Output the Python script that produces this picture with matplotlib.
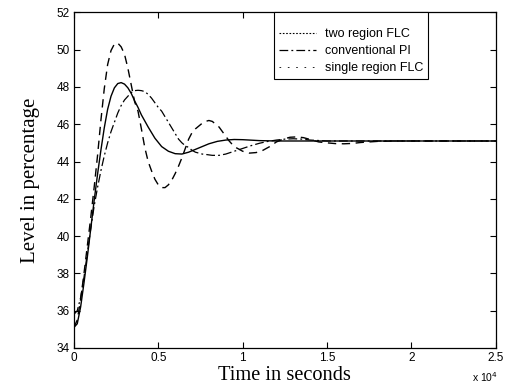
import matplotlib
matplotlib.use("Agg")
import matplotlib.pyplot as plt
from matplotlib.lines import Line2D
from matplotlib.ticker import FuncFormatter

# ---- data (time in seconds, level in %) ----
t_single = [0, 200, 400, 600, 800, 1000, 1200, 1400, 1600, 1800, 2000, 2200, 2400, 2600,
            2800, 3000, 3200, 3400, 3600, 3800, 4000, 4200, 4400, 4600, 4800, 5000, 5200,
            5400, 5600, 5800, 6000, 6200, 6400, 6600, 6800, 7000, 7200, 7400, 7600, 7800,
            8000, 8200, 8400, 8600, 8800, 9000, 9200, 9400, 9600, 9800, 10000, 10400,
            10800, 11200, 11600, 12000, 12400, 12800, 13200, 13600, 14000, 14500, 15000,
            15500, 16000, 16500, 17000, 18000, 19000, 25000]
v_single = [35.1, 35.5, 36.6, 38.0, 39.5, 41.0, 42.6, 44.3, 46.2, 47.9, 49.2, 49.95, 50.3,
            50.35, 50.15, 49.75, 49.0, 48.1, 47.2, 46.7, 45.75, 44.75, 44.0, 43.5, 43.05,
            42.75, 42.6, 42.6, 42.75, 43.0, 43.35, 43.75, 44.2, 44.7, 45.2, 45.55, 45.75,
            45.9, 46.05, 46.15, 46.2, 46.15, 46.0, 45.85, 45.6, 45.35, 45.1, 44.9, 44.75,
            44.65, 44.55, 44.45, 44.48, 44.6, 44.8, 45.05, 45.2, 45.3, 45.32, 45.28, 45.18,
            45.05, 45.0, 44.96, 44.95, 44.97, 45.02, 45.08, 45.1, 45.1]

t_two = [0, 200, 400, 600, 800, 1000, 1200, 1400, 1600, 1800, 2000, 2200, 2400, 2600, 2800,
         3000, 3200, 3400, 3600, 3800, 4000, 4400, 4800, 5200, 5600, 6000, 6400, 6800,
         7200, 7600, 8000, 8500, 9000, 9500, 10000, 11000, 12000, 25000]
v_two = [35.1, 35.3, 36.2, 37.5, 38.9, 40.4, 41.9, 43.3, 44.6, 45.8, 46.8, 47.5, 47.95,
         48.18, 48.23, 48.15, 47.95, 47.65, 47.25, 46.9, 46.5, 45.85, 45.25, 44.8, 44.55,
         44.42, 44.4, 44.5, 44.65, 44.8, 44.95, 45.08, 45.15, 45.18, 45.17, 45.12, 45.1,
         45.1]

t_pi = [0, 200, 400, 600, 800, 1000, 1200, 1400, 1600, 1800, 2000, 2200, 2400, 2600, 2800,
        3000, 3200, 3400, 3600, 3800, 4000, 4200, 4400, 4600, 4800, 5000, 5200, 5400,
        5600, 5800, 6000, 6200, 6400, 6600, 6800, 7000, 7200, 7400, 7600, 7800, 8200,
        8600, 9000, 9500, 10000, 10500, 11000, 11500, 12000, 12500, 13000, 13500, 14000,
        15000, 25000]
v_pi = [35.8, 36.0, 36.7, 37.8, 39.1, 40.4, 41.6, 42.6, 43.5, 44.3, 45.0, 45.6, 46.1, 46.6,
        47.0, 47.3, 47.5, 47.7, 47.8, 47.82, 47.8, 47.75, 47.6, 47.4, 47.15, 46.9, 46.7,
        46.4, 46.1, 45.8, 45.5, 45.2, 45.0, 44.85, 44.75, 44.6, 44.5, 44.45, 44.4, 44.38,
        44.33, 44.33, 44.4, 44.55, 44.7, 44.85, 44.98, 45.08, 45.15, 45.2, 45.22, 45.2,
        45.15, 45.1, 45.1]

labels = ["two region FLC", "conventional PI", "single region FLC"]
x_ticks = [0, 5000, 10000, 15000, 20000, 25000]
y_ticks = [34, 36, 38, 40, 42, 44, 46, 48, 50, 52]

# ---- figure ----
fig = plt.figure(figsize=(5.06, 3.91), dpi=100)
ax = fig.add_axes([0.146, 0.110, 0.834, 0.8585])

ax.plot(t_two, v_two, color="black", lw=1.0, ls="-")
ax.plot(t_pi, v_pi, color="black", lw=0.9, ls=(0, (7, 2.5, 1.5, 2.5)))
ax.plot(t_single, v_single, color="black", lw=1.0, ls=(0, (6, 4)))

ax.set_xlim(0, 25000)
ax.set_ylim(34, 52)
ax.set_xticks(x_ticks)
ax.set_yticks(y_ticks)
ax.xaxis.set_major_formatter(FuncFormatter(lambda v, p: f"{v/1e4:g}"))
ax.tick_params(direction="in", top=True, right=True, length=4, width=0.8,
               labelsize=8.5, pad=3)
for lab in ax.get_xticklabels() + ax.get_yticklabels():
    lab.set_family("Liberation Sans")
for s in ax.spines.values():
    s.set_linewidth(0.9)

ax.set_ylabel("Level in percentage", family="Liberation Serif", fontsize=15, labelpad=12)
ax.set_xlabel("Time in seconds", family="Liberation Serif", fontsize=14.7, labelpad=1)
fig.text(0.932, 0.022, r"x 10$^4$", family="Liberation Sans", fontsize=7.5)

handles = [Line2D([], [], color="black", lw=0.8, ls=(0, (1.5, 1.5))),
           Line2D([], [], color="black", lw=0.9, ls=(0, (7, 2.5, 1.5, 2.5))),
           Line2D([], [], color="black", lw=0.6, ls=(0, (2, 8)))]
leg = ax.legend(handles, labels, loc="upper right", bbox_to_anchor=(0.839, 1.0),
                borderaxespad=0, fancybox=False, framealpha=1, edgecolor="black",
                prop={"family": "Liberation Sans", "size": 9},
                title=" ", title_fontsize=5,
                handlelength=3.0, handletextpad=0.65, labelspacing=0.4, borderpad=0.4)
leg.get_frame().set_linewidth(0.8)

fig.savefig("out.png", dpi=100)
